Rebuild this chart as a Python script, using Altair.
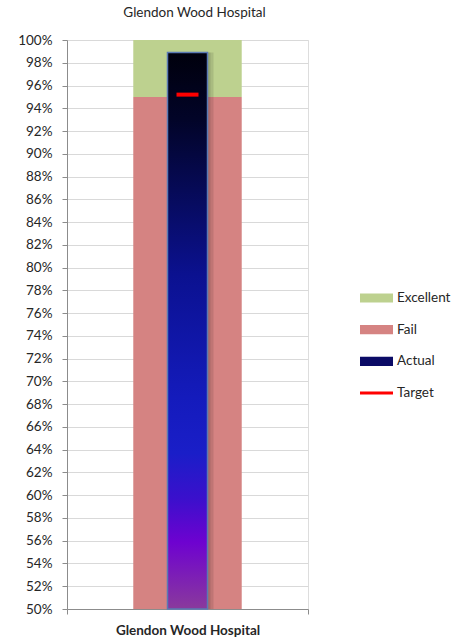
import altair as alt
import pandas as pd

# ---- data ----
hospital = "Glendon Wood Hospital"
band_names = ["Excellent", "Fail"]
band_lo = [0.95, 0.50]
band_hi = [1.00, 0.95]
actual_value = 0.989
target_value = 0.952
axis_min = 0.50
axis_max = 1.00
tick_values = [round(0.50 + 0.02 * i, 2) for i in range(26)]

legend_series = ["Excellent", "Fail", "Actual"]
legend_colors = ["#bdd18f", "#d58382", "#0b0b66"]

FONT = "Lato"
TXT = "#262626"

bands_df = pd.DataFrame({"hospital": hospital, "series": band_names, "lo": band_lo, "hi": band_hi})
actual_df = pd.DataFrame({"hospital": [hospital], "series": ["Actual"], "lo": [axis_min], "hi": [actual_value]})
target_df = pd.DataFrame({"hospital": [hospital], "series": ["Target"], "value": [target_value]})

x_scale = alt.Scale(paddingInner=0, paddingOuter=0)
x_enc = alt.X("hospital:N", title=None, scale=x_scale,
              axis=alt.Axis(tickBand="extent", labelFontWeight="bold", labelFontSize=13.5,
                            labelFont=FONT, labelColor=TXT, labelAngle=0, tickSize=5,
                            labelPadding=9, domainColor="#8c8c8c", tickColor="#8c8c8c"))
y_scale = alt.Scale(domain=[axis_min, axis_max], nice=False, zero=False)
y_axis = alt.Axis(values=tick_values, tickCount=len(tick_values), format=".0%",
                  tickSize=5, labelPadding=10,
                  labelOverlap=False, labelFlush=False,
                  labelFont=FONT, labelFontSize=13.5, labelColor=TXT,
                  domainColor="#8c8c8c", tickColor="#8c8c8c", gridColor="#d9d9d9", title=None)

bands = alt.Chart(bands_df).mark_bar(width=alt.RelativeBandSize(0.45)).encode(
    x=x_enc,
    y=alt.Y("lo:Q", scale=y_scale, axis=y_axis),
    y2="hi:Q",
    color=alt.Color("series:N",
                    scale=alt.Scale(domain=legend_series, range=legend_colors),
                    legend=alt.Legend(title=None, orient="none", legendX=293, legendY=248,
                                      symbolType="M-1,-0.28H1V0.28H-1Z", symbolSize=1089,
                                      symbolStrokeWidth=0, symbolOpacity=1,
                                      clipHeight=20, rowPadding=11.7, labelOffset=4,
                                      labelFont=FONT, labelFontSize=13.5, labelColor=TXT,
                                      padding=0)),
)

shadow1 = alt.Chart(actual_df).mark_bar(width=alt.RelativeBandSize(0.166), color="black",
                                        opacity=0.10, xOffset=3).encode(
    x=alt.X("hospital:N", scale=x_scale), y=alt.Y("lo:Q", scale=y_scale), y2="hi:Q")
shadow2 = alt.Chart(actual_df).mark_bar(width=alt.RelativeBandSize(0.166), color="black",
                                        opacity=0.10, xOffset=6).encode(
    x=alt.X("hospital:N", scale=x_scale), y=alt.Y("lo:Q", scale=y_scale), y2="hi:Q")

grad = alt.LinearGradient(
    gradient="linear", x1=0, y1=0, x2=0, y2=1,
    stops=[
        alt.GradientStop(offset=0.0, color="#00000c"),
        alt.GradientStop(offset=0.12, color="#020428"),
        alt.GradientStop(offset=0.40, color="#0b1190"),
        alt.GradientStop(offset=0.62, color="#141bbc"),
        alt.GradientStop(offset=0.72, color="#1a1ec8"),
        alt.GradientStop(offset=0.80, color="#3a10cc"),
        alt.GradientStop(offset=0.88, color="#6e02d0"),
        alt.GradientStop(offset=1.0, color="#8a3a9c"),
    ],
)

actual = alt.Chart(actual_df).mark_bar(width=alt.RelativeBandSize(0.166), fill=grad,
                                       stroke="#5a7ab4", strokeWidth=1.5).encode(
    x=alt.X("hospital:N", scale=x_scale), y=alt.Y("lo:Q", scale=y_scale), y2="hi:Q")

target = alt.Chart(target_df).mark_tick(thickness=4, size=22, opacity=1).encode(
    x=alt.X("hospital:N", scale=x_scale),
    y=alt.Y("value:Q", scale=y_scale),
    fill=alt.Fill("series:N",
                  scale=alt.Scale(domain=["Target"], range=["#ff0000"]),
                  legend=alt.Legend(title=None, orient="none", legendX=293, legendY=343,
                                    symbolType="M-1,-0.09H1V0.09H-1Z", symbolSize=1089,
                                    symbolStrokeWidth=0, symbolOpacity=1,
                                    clipHeight=20, labelOffset=4,
                                    labelFont=FONT, labelFontSize=13.5, labelColor=TXT,
                                    padding=0)),
)

chart = alt.layer(bands, shadow1, shadow2, actual, target).properties(
    width=241, height=569,
    title=alt.TitleParams(hospital, font=FONT, fontSize=13.5, fontWeight="normal",
                          color=TXT, offset=14, dx=7),
    autosize=alt.AutoSizeParams(type="none"),
    padding={"left": 67, "top": 40, "right": 155, "bottom": 32},
).configure_view(stroke=None).configure(background="white")

chart.save("out.html", embed_options={"renderer": "svg", "actions": False})
